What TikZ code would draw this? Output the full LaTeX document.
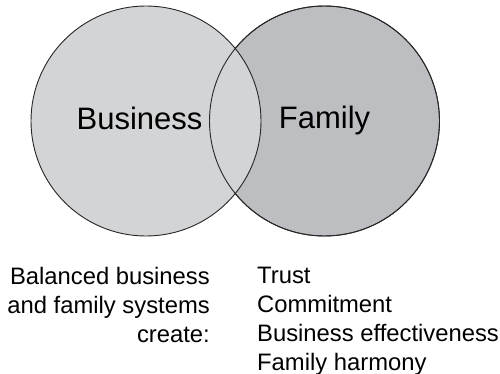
\documentclass[tikz,border=0pt]{standalone}
\usepackage{fontspec}
\setmainfont{Liberation Sans}
\usepackage{tikz}
\usetikzlibrary{positioning, calc}
\definecolor{biz_gray}{HTML}{D3D4D6}
\definecolor{fam_gray}{HTML}{BDBEC2}
\tikzset{
  setcircle/.style={circle,draw=black!85,line width=0.9pt,minimum size=230pt,inner sep=0pt},
  setname/.style={font=\fontsize{31}{36}\selectfont,anchor=base,inner sep=0pt},
  notetext/.style={font=\fontsize{23.8}{29}\selectfont,inner sep=0pt},
}

\begin{document}
\begin{tikzpicture}[x=1pt,y=-1pt]
	    \useasboundingbox (0,0) rectangle (500,374);
	    \node[setcircle,fill=fam_gray] (F) at (324.5,121) {};
	    \node[setcircle,fill=biz_gray] (B) at (146,121) {};
	    \draw[black!85,line width=0.9pt] (F) circle (115);
	    \node[setname] (BL) at (139.5,130) {Business};
	    \node[setname] (FL) at (324.5,129) {Family};
	    % base of a multi-line node is its last line
	    \node[notetext,align=right,anchor=base east] (N) at (210,342)
	    	{Balanced business\\and family systems\\create:};
	    \node[notetext,align=left,anchor=base west] (R) at (257,370)
	    	{Trust\\Commitment\\Business effectiveness\\Family harmony};
	\end{tikzpicture}
\end{document}
